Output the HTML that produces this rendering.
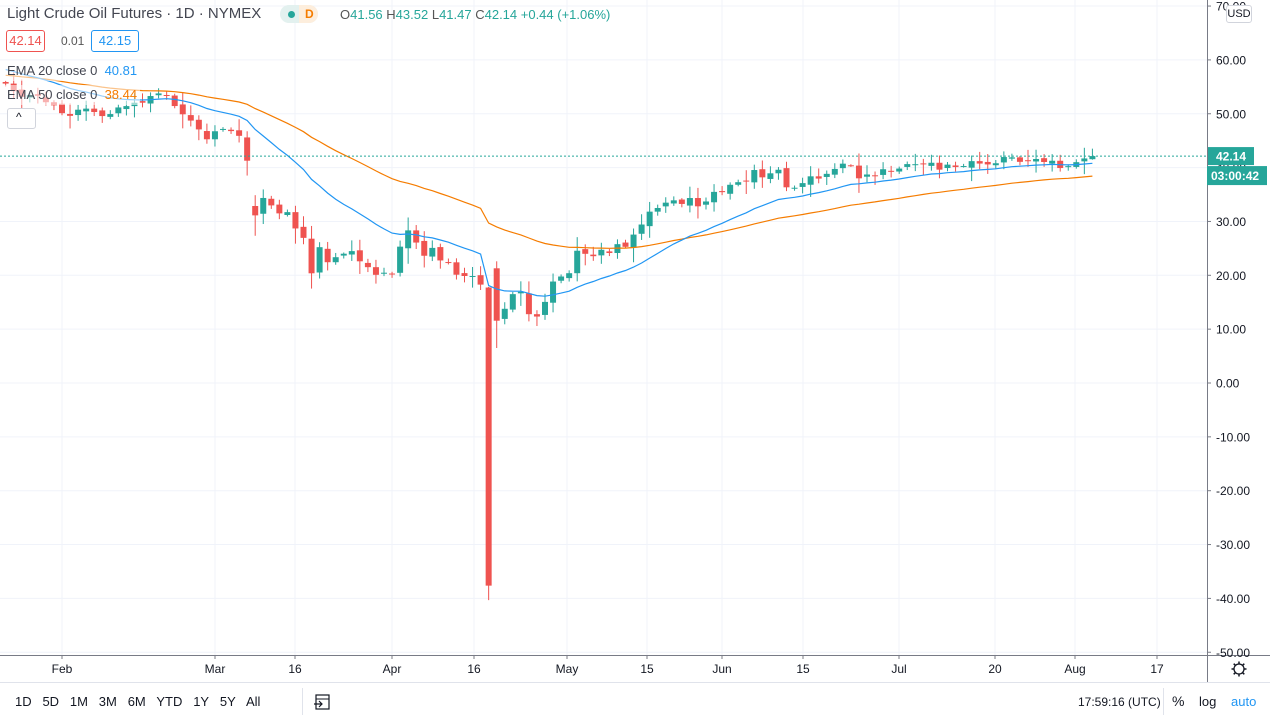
<!DOCTYPE html>
<html><head><meta charset="utf-8">
<style>
html,body{margin:0;padding:0;background:#fff;width:1270px;height:719px;overflow:hidden;font-family:"Liberation Sans",sans-serif;}
#c{position:absolute;left:0;top:0;}
.t{position:absolute;white-space:nowrap;font-size:13px;color:#131722;}
</style></head><body>
<svg id="c" width="1270" height="719" xmlns="http://www.w3.org/2000/svg"></svg>
<div class="t" style="left:7px;top:5px;font-size:15px;color:#434651">Light Crude Oil Futures · 1D · NYMEX</div>
<div style="position:absolute;left:280px;top:5px;width:38px;height:18px;border-radius:9px;background:#e3f1ef"></div>
<div style="position:absolute;left:299px;top:5px;width:19px;height:18px;border-radius:0 9px 9px 0;background:#fdeedd"></div>
<div style="position:absolute;left:288px;top:11px;width:7px;height:7px;border-radius:50%;background:#26a69a"></div>
<div class="t" style="left:305px;top:7px;font-size:12px;color:#f57c00;font-weight:bold">D</div>
<div class="t" style="left:340px;top:7px;color:#26a69a"><span style="color:#555">O</span>41.56 <span style="color:#555">H</span>43.52 <span style="color:#555">L</span>41.47 <span style="color:#555">C</span>42.14 +0.44 (+1.06%)</div>
<div class="t" style="left:6px;top:30px;width:37px;height:20px;border:1px solid #ef5350;border-radius:3px;color:#ef5350;text-align:center;line-height:20px">42.14</div>
<div class="t" style="left:61px;top:34px;font-size:12px;color:#555">0.01</div>
<div class="t" style="left:91px;top:30px;width:46px;height:20px;border:1px solid #2196f3;border-radius:3px;color:#2196f3;text-align:center;line-height:20px">42.15</div>
<div class="t" style="left:0;top:61px;height:20px;padding:0 3px 0 7px;background:rgba(255,255,255,0.55);color:#434651;line-height:20px">EMA 20 close 0 &nbsp;<span style="color:#2196f3">40.81</span></div>
<div class="t" style="left:0;top:85px;height:20px;padding:0 3px 0 7px;background:rgba(255,255,255,0.55);color:#434651;line-height:20px">EMA 50 close 0 &nbsp;<span style="color:#f57c00">38.44</span></div>
<div style="position:absolute;left:7px;top:108px;width:27px;height:19px;border:1px solid #d1d4dc;border-radius:3px;background:#fff"></div>
<div class="t" style="left:16px;top:110px;font-size:12px;color:#131722">^</div>
<div class="t" style="left:1226px;top:5px;width:24px;height:16px;border:1px solid #d1d4dc;border-radius:3px;font-size:11px;line-height:16px;text-align:center;background:#fff;color:#131722">USD</div>
<div class="t" style="left:15px;top:694px;font-size:13px;letter-spacing:0">1D&nbsp;&nbsp; 5D&nbsp;&nbsp; 1M&nbsp;&nbsp; 3M&nbsp;&nbsp; 6M&nbsp;&nbsp; YTD&nbsp;&nbsp; 1Y&nbsp;&nbsp; 5Y&nbsp;&nbsp; All</div>
<div class="t" style="left:1078px;top:695px;width:80px;text-align:right;font-size:12px">17:59:16 (UTC)</div>
<div class="t" style="left:1172px;top:693px;font-size:14px">%</div>
<div class="t" style="left:1199px;top:694px;">log</div>
<div class="t" style="left:1231px;top:694px;color:#2196f3">auto</div>
<script>
var svg=document.getElementById('c');var h='';
function Y(p){return 383-5.385*p;}
function X(i){return 62+i*8.05;}
for(var p=70;p>=-50;p-=10){var y=Y(p);h+='<line x1="0" x2="1207" y1="'+y+'" y2="'+y+'" stroke="#f0f3fa"/>';}
var xl=[[62,'Feb'],[215,'Mar'],[295,'16'],[392,'Apr'],[474,'16'],[567,'May'],[647,'15'],[722,'Jun'],[803,'15'],[899,'Jul'],[995,'20'],[1075,'Aug'],[1157,'17']];
xl.forEach(function(a){h+='<line x1="'+a[0]+'" x2="'+a[0]+'" y1="0" y2="655" stroke="#f0f3fa"/>';});
var c=[55.6,54.19,53.14,53.48,53.33,52.14,51.56,50.11,49.61,50.75,50.95,50.32,49.57,49.94,51.17,51.42,52.05,52.05,53.29,53.78,53.38,51.43,49.90,48.73,47.09,45.26,46.75,47.18,46.78,45.90,41.28,31.13,34.36,32.98,31.50,31.73,28.70,26.95,20.37,25.22,22.43,23.36,24.01,24.49,22.60,21.51,20.09,20.48,20.31,25.32,28.34,26.08,23.63,25.09,22.76,22.41,20.11,19.87,19.87,18.27,-37.63,11.57,13.78,16.50,16.94,12.78,12.34,15.06,18.84,19.78,20.39,24.56,23.99,23.55,24.74,24.14,25.78,25.29,27.56,29.43,31.82,32.50,33.49,33.92,33.25,34.35,32.81,33.71,35.49,35.44,36.81,37.29,37.41,39.55,38.19,38.94,39.60,36.34,36.26,37.12,38.38,37.96,38.84,39.75,40.73,40.37,38.01,38.72,38.49,39.70,39.27,39.82,40.65,40.63,40.62,40.90,39.62,40.55,40.10,40.29,41.20,40.75,40.59,40.81,41.96,41.90,41.07,41.29,41.60,41.04,41.27,39.92,40.27,41.01,41.70,42.14];
var start=-7;var e20=58.5,e50=57.2,k20=2/21,k50=2/51;var p20=[],p50=[];
var special={31:[32.87,34.88,27.34],60:[17.73,17.85,-40.32],61:[21.3,22.6,6.5],62:[11.9,15.0,10.9]};
var last=c.length-1;
for(var j=0;j<c.length;j++){
 var i=start+j,x=X(i),cl=c[j];
 e20=e20+k20*(cl-e20);e50=e50+k50*(cl-e50);p20.push(x+','+Y(e20).toFixed(1));p50.push(x+','+Y(e50).toFixed(1));
 var o,hi,lo;
 if(special[j]){o=special[j][0];hi=special[j][1];lo=special[j][2];}
 else if(j==last){o=41.56;hi=43.52;lo=41.47;}
 else{var pc=j?c[j-1]:56.2;o=pc+((j*7)%5-2)*0.15;var r=Math.abs(cl-o);var w=0.4+((j*13)%7)*0.25+r*0.15;hi=Math.max(o,cl)+w*((j%3)?1:0.5);lo=Math.min(o,cl)-w*((j%2)?0.6:1.2);}
 var col=cl>=o?'#26a69a':'#ef5350';
 var yt=Y(Math.max(o,cl)),yb=Y(Math.min(o,cl));if(yb-yt<1)yb=yt+1;
 h+='<line x1="'+x+'" x2="'+x+'" y1="'+Y(hi)+'" y2="'+Y(lo)+'" stroke="'+col+'"/>';
 h+='<rect x="'+(x-3)+'" y="'+yt+'" width="6" height="'+(yb-yt)+'" fill="'+col+'"/>';
}
h+='<polyline points="'+p50.join(' ')+'" fill="none" stroke="#f57c00" stroke-width="1.2"/>';
h+='<polyline points="'+p20.join(' ')+'" fill="none" stroke="#2196f3" stroke-width="1.2"/>';
h+='<line x1="0" x2="1207" y1="'+Y(42.14)+'" y2="'+Y(42.14)+'" stroke="#26a69a" stroke-dasharray="2,2"/>';
h+='<line x1="1207.5" x2="1207.5" y1="0" y2="682" stroke="#787b86"/>';
h+='<line x1="0" x2="1270" y1="655.5" y2="655.5" stroke="#787b86"/>';
h+='<line x1="0" x2="1270" y1="682.5" y2="682.5" stroke="#e0e3eb"/>';
for(var p=70;p>=-50;p-=10){var y=Y(p);h+='<line x1="1207" x2="1211" y1="'+y+'" y2="'+y+'" stroke="#787b86"/><text x="1216" y="'+(y+4.5)+'" font-size="12" fill="#131722" font-family="Liberation Sans">'+p.toFixed(2)+'</text>';}
xl.forEach(function(a){h+='<line x1="'+a[0]+'" x2="'+a[0]+'" y1="655" y2="659" stroke="#787b86"/><text x="'+a[0]+'" y="673" text-anchor="middle" font-size="12" fill="#131722" font-family="Liberation Sans">'+a[1]+'</text>';});
var py=Y(42.14);
h+='<rect x="1208" y="'+(py-9)+'" width="46" height="18" fill="#26a69a"/><text x="1216" y="'+(py+4.5)+'" font-size="12" fill="#fff" font-family="Liberation Sans" font-weight="bold">42.14</text>';
h+='<rect x="1207" y="'+(py+10)+'" width="60" height="19" fill="#26a69a"/><text x="1211" y="'+(py+24)+'" font-size="12" fill="#fff" font-family="Liberation Sans" font-weight="bold">03:00:42</text>';
h+='<circle cx="1239" cy="669" r="5" fill="none" stroke="#131722" stroke-width="1.3"/>';
for(var a=0;a<8;a++){var an=a*Math.PI/4;h+='<line x1="'+(1239+5*Math.cos(an))+'" y1="'+(669+5*Math.sin(an))+'" x2="'+(1239+7.5*Math.cos(an))+'" y2="'+(669+7.5*Math.sin(an))+'" stroke="#131722" stroke-width="1.5"/>';}
h+='<line x1="302.5" x2="302.5" y1="688" y2="715" stroke="#e0e3eb"/><line x1="1163.5" x2="1163.5" y1="688" y2="715" stroke="#e0e3eb"/>';
h+='<rect x="316" y="695" width="13" height="14" fill="none" stroke="#131722" stroke-width="1.2"/><line x1="316" x2="329" y1="699" y2="699" stroke="#131722"/><path d="M314 704 h8 m-3 -3 l3 3 l-3 3" fill="none" stroke="#131722" stroke-width="1.2"/>';
svg.innerHTML=h;
</script>
</body></html>
